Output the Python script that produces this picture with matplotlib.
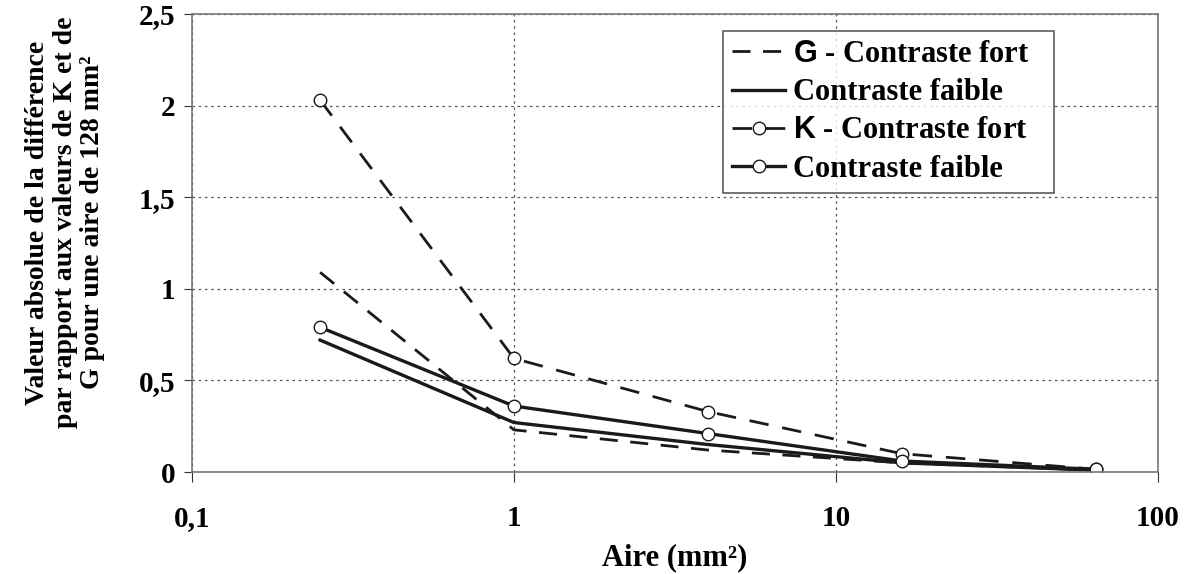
import matplotlib.pyplot as plt
from matplotlib.ticker import FixedLocator, FixedFormatter

plt.rcParams["font.family"] = ["Liberation Serif", "DejaVu Serif"]
plt.rcParams["font.weight"] = "bold"
plt.rcParams["mathtext.fontset"] = "custom"
plt.rcParams["mathtext.sf"] = "Liberation Sans:bold"

aire = [0.25, 1, 4, 16, 64]
g_fort = [1.09, 0.23, 0.12, 0.05, 0.01]
g_faible = [0.72, 0.27, 0.15, 0.05, 0.01]
k_fort = [2.03, 0.62, 0.33, 0.10, 0.015]
k_faible = [0.79, 0.36, 0.21, 0.06, 0.015]

y_ticks = [0, 0.5, 1, 1.5, 2, 2.5]
y_labels = ["0", "0,5", "1", "1,5", "2", "2,5"]
x_ticks = [0.1, 1, 10, 100]
x_labels = ["0,1", "1", "10", "100"]

fig = plt.figure(figsize=(11.88, 5.74), dpi=100)
ax = fig.add_axes([0.1616, 0.1777, 0.8131, 0.7979])

ax.plot(aire, g_fort, color="#1a1a1a", lw=2.0, ls=(0, (6.5, 4.5)),
        label=r"$\mathsf{G}$ - Contraste fort   ")
ax.plot(aire, g_faible, color="#1a1a1a", lw=2.4, ls="-",
        label="Contraste faible")
ax.plot(aire, k_fort, color="#1a1a1a", lw=2.0, ls=(0, (7, 5)), marker="o",
        ms=9, mfc="white", mec="#1a1a1a", mew=1.0,
        label=r"$\mathsf{K}$ - Contraste fort   ")
ax.plot(aire, k_faible, color="#1a1a1a", lw=2.4, ls="-", marker="o",
        ms=9, mfc="white", mec="#1a1a1a", mew=1.0,
        label="Contraste faible")

ax.set_xscale("log")
ax.set_xlim(0.1, 100)
ax.set_ylim(0, 2.5)
ax.xaxis.set_major_locator(FixedLocator(x_ticks))
ax.xaxis.set_major_formatter(FixedFormatter(x_labels))
ax.xaxis.set_minor_locator(FixedLocator([]))
ax.set_yticks(y_ticks)
ax.set_yticklabels(y_labels)
ax.tick_params(labelsize=21, direction="out", color="#333333")
ax.tick_params(axis="x", length=7, pad=17)
ax.tick_params(axis="y", length=6, pad=6)
ax.grid(True, ls=(0, (2, 3)), color="#555555", lw=0.9)
for s in ax.spines.values():
    s.set_color("#777777")
    s.set_linewidth(1.2)

ax.set_xlabel("Aire (mm²)", fontsize=22, fontweight="bold", labelpad=8)
ax.set_ylabel("Valeur absolue de la différence\npar rapport aux valeurs de K et de\nG pour une aire de 128 mm²",
              fontsize=20, fontweight="bold", linespacing=1.12)
ax.yaxis.set_label_coords(-0.09, 0.545)

leg = ax.legend(loc="upper right", bbox_to_anchor=(0.8925, 0.963), fontsize=22,
                frameon=True, fancybox=False, handlelength=1.75,
                handletextpad=0.25, labelspacing=0.3, borderpad=0.3,
                borderaxespad=0.0)
leg.get_frame().set_edgecolor("#333333")
leg.get_frame().set_linewidth(1.2)

fig.savefig("out.png", dpi=100)
